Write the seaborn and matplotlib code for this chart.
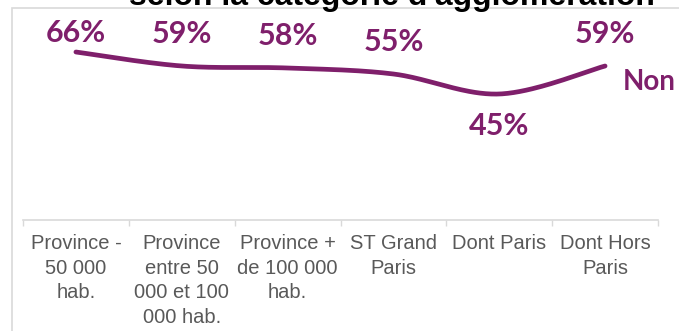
import numpy as np
import matplotlib
matplotlib.use('Agg')
import matplotlib.pyplot as plt
from matplotlib.patches import Rectangle
import seaborn as sns

# Données
categories = ['Province -\n50 000\nhab.', 'Province\nentre 50\n000 et 100\n000 hab.',
              'Province +\nde 100 000\nhab.', 'ST Grand\nParis', 'Dont Paris', 'Dont Hors\nParis']
non_values = [66, 59, 58, 55, 45, 59]
label_side = ['above', 'above', 'above', 'above', 'below', 'above']
series_name = 'Non'
title = "selon la catégorie d'agglomération"

purple = '#7F1F6B'
gray_txt = '#595959'
gray_line = '#D9D9D9'


def smooth(x, y, n=40):
    # lissage type Excel (Catmull-Rom)
    p = np.column_stack([x, y]).astype(float)
    p = np.vstack([p[0], p, p[-1]])
    out = []
    t = np.linspace(0, 1, n)[:, None]
    for i in range(1, len(p) - 2):
        p0, p1, p2, p3 = p[i - 1], p[i], p[i + 1], p[i + 2]
        seg = 0.5 * (2 * p1 + (-p0 + p2) * t + (2 * p0 - 5 * p1 + 4 * p2 - p3) * t ** 2
                     + (-p0 + 3 * p1 - 3 * p2 + p3) * t ** 3)
        out.append(seg)
    out = np.vstack(out)
    return out[:, 0], out[:, 1]


sns.set_style('white')
plt.rcParams['font.family'] = ['Liberation Sans', 'DejaVu Sans']

fig = plt.figure(figsize=(6.79, 3.31), dpi=100)
ax = fig.add_axes([23 / 679, 111 / 331, 635 / 679, 210 / 331])

xi = np.arange(len(categories))
xs, ys = smooth(xi, non_values)
sns.lineplot(x=xs, y=ys, ax=ax, color=purple, lw=3.4, sort=False, estimator=None,
             solid_capstyle='round')

for x, v, side in zip(xi, non_values, label_side):
    ly = min(v + 16, 75.5) if side == 'above' else v - 16
    ax.text(x, ly, f'{v}%', ha='center', va='center', color=purple,
            fontsize=22, fontweight='bold', family='Lato')

ax.text(5.17, 51, series_name, ha='left', va='center', color=purple,
        fontsize=20, fontweight='bold', family='Lato', clip_on=False)

ax.set_xlim(-0.5, 5.5)
ax.set_ylim(-18, 87)
ax.set_xticks(xi)
ax.set_xticklabels(categories, fontsize=14.5, color=gray_txt, linespacing=1.38)
ax.set_xticks(np.arange(-0.5, 6, 1), minor=True)
ax.tick_params(axis='x', which='major', length=0, pad=10)
ax.tick_params(axis='x', which='minor', length=4, color=gray_line, width=1, bottom=True)
ax.set_yticks([])
for s in ['left', 'right', 'top']:
    ax.spines[s].set_visible(False)
ax.spines['bottom'].set_color(gray_line)
ax.spines['bottom'].set_linewidth(1.2)
ax.set_xlabel('')
ax.set_ylabel('')

fig.add_artist(Rectangle((12 / 679, -0.05), 1.2, 1.05 - 7.5 / 331, transform=fig.transFigure,
                         fill=False, ec=gray_line, lw=1.2))
fig.text(392 / 679, 1 - 5 / 331, title, ha='center', va='baseline', fontsize=23,
         fontweight='bold', color='black')

fig.savefig('out.png', dpi=100)
